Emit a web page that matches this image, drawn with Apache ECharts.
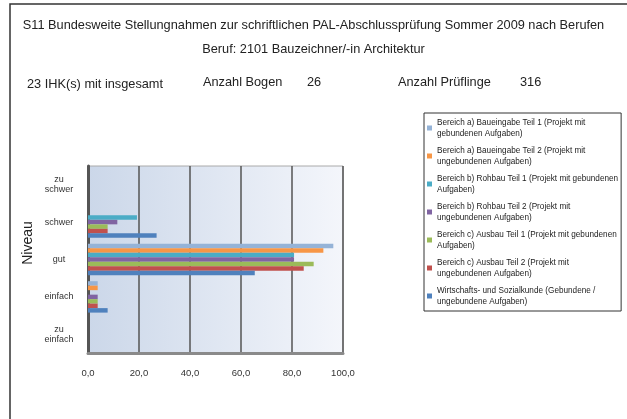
<!DOCTYPE html>
<html>
<head>
<meta charset="utf-8">
<script src="https://cdn.jsdelivr.net/npm/echarts@6/dist/echarts.min.js"></script>
<style>
  html, body { margin: 0; padding: 0; background: #fff; }
  #chart { width: 627px; height: 419px; }
</style>
</head>
<body>
<div id="chart"></div>
<script>
// Kategorien von oben nach unten
const categories = ['zu\nschwer', 'schwer', 'gut', 'einfach', 'zu\neinfach']
const seriesNames = [
  'Bereich a) Baueingabe Teil 1 (Projekt mit\ngebundenen Aufgaben)',
  'Bereich a) Baueingabe Teil 2 (Projekt mit\nungebundenen Aufgaben)',
  'Bereich b) Rohbau Teil 1 (Projekt mit gebundenen\nAufgaben)',
  'Bereich b) Rohbau Teil 2 (Projekt mit\nungebundenen Aufgaben)',
  'Bereich c) Ausbau Teil 1 (Projekt mit gebundenen\nAufgaben)',
  'Bereich c) Ausbau Teil 2 (Projekt mit\nungebundenen Aufgaben)',
  'Wirtschafts- und Sozialkunde (Gebundene /\nungebundene Aufgaben)'
]
const colorList = ['#95b3d7', '#f79646', '#4bacc6', '#8064a2', '#9bbb59', '#c0504d', '#4f81bd']
// Prozentwerte je Bereich: zu schwer, schwer, gut, einfach, zu einfach
const baueingabe1 = [0, 0, 96.2, 3.8, 0]
const baueingabe2 = [0, 0, 92.3, 3.8, 0]
const rohbau1 = [0, 19.2, 80.8, 0, 0]
const rohbau2 = [0, 11.5, 80.8, 3.8, 0]
const ausbau1 = [0, 7.7, 88.5, 3.8, 0]
const ausbau2 = [0, 7.7, 84.6, 3.8, 0]
const wiso = [0, 26.9, 65.4, 7.7, 0]
const xTicks = { min: 0, max: 100, interval: 20 }

const seriesData = [baueingabe1, baueingabe2, rohbau1, rohbau2, ausbau1, ausbau2, wiso]
const font = 'Liberation Sans, Arial, sans-serif'
const headFont = '12.75px ' + font

const myChart = echarts.init(document.getElementById('chart'))
const option = {
  animation: false,
  textStyle: { fontFamily: font },
  color: colorList,
  graphic: [
    { type: 'rect', shape: { x: 10, y: 4, width: 700, height: 500 }, style: { fill: 'none', stroke: '#333', lineWidth: 1.5 }, z: 100 },
    { type: 'text', left: 'center', top: 19, style: { text: 'S11 Bundesweite Stellungnahmen zur schriftlichen PAL-Abschlussprüfung Sommer 2009 nach Berufen', font: headFont, fill: '#222' } },
    { type: 'text', left: 'center', top: 43, style: { text: 'Beruf: 2101 Bauzeichner/-in Architektur', font: headFont, fill: '#222' } },
    { type: 'text', left: 27, top: 78, style: { text: '23 IHK(s) mit insgesamt', font: headFont, fill: '#222' } },
    { type: 'text', left: 203, top: 76, style: { text: 'Anzahl Bogen', font: headFont, fill: '#222' } },
    { type: 'text', left: 307, top: 76, style: { text: '26', font: headFont, fill: '#222' } },
    { type: 'text', left: 398, top: 76, style: { text: 'Anzahl Prüflinge', font: headFont, fill: '#222' } },
    { type: 'text', left: 520, top: 76, style: { text: '316', font: headFont, fill: '#222' } },
    // Achsentitel
    { type: 'text', x: 28, y: 243, rotation: Math.PI / 2, style: { text: 'Niveau', font: '14px ' + font, fill: '#222', align: 'center', verticalAlign: 'middle' } }
  ],
  legend: {
    orient: 'vertical',
    left: 424,
    top: 113,
    padding: [4, 3, 4, 3],
    itemGap: 6,
    itemWidth: 5,
    itemHeight: 5,
    icon: 'rect',
    borderColor: '#333',
    borderWidth: 1,
    textStyle: { fontSize: 8.2, lineHeight: 11, color: '#222' },
    data: seriesNames
  },
  grid: {
    left: 88,
    top: 166,
    width: 255,
    height: 187,
    show: true,
    borderColor: '#aaa',
    borderWidth: 1,
    backgroundColor: new echarts.graphic.LinearGradient(0, 0, 1, 0, [
      { offset: 0, color: '#cbd7e9' },
      { offset: 1, color: '#f4f6fb' }
    ])
  },
  xAxis: {
    type: 'value',
    min: xTicks.min,
    max: xTicks.max,
    interval: xTicks.interval,
    axisLine: { show: true, lineStyle: { color: '#8a8a8a', width: 3 } },
    axisTick: { show: false },
    splitLine: { lineStyle: { color: '#555', width: 1.5 } },
    axisLabel: {
      fontSize: 9.5,
      color: '#333',
      margin: 15,
      formatter: v => v.toFixed(1).replace('.', ',')
    }
  },
  yAxis: {
    type: 'category',
    inverse: true,
    data: categories,
    axisLine: { lineStyle: { color: '#555', width: 3 } },
    axisTick: { show: false },
    axisLabel: { fontSize: 9, lineHeight: 10, color: '#333', align: 'center', margin: 29 }
  },
  series: seriesNames.map((name, i) => ({
    name: name,
    type: 'bar',
    barGap: 0,
    barCategoryGap: '16%',
    data: seriesData[i],
    itemStyle: { color: colorList[i] }
  }))
}
myChart.setOption(option)
</script>
</body>
</html>
